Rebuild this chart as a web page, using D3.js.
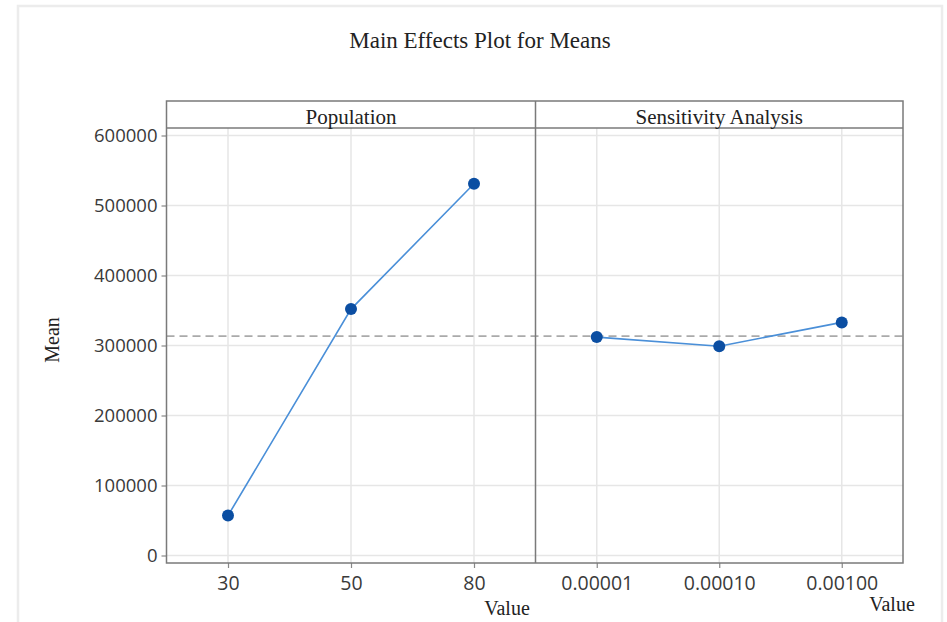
<!DOCTYPE html>
<html>
<head>
	<meta charset="utf-8">
	<title>Main Effects Plot for Means</title>
	<style>
		body {
			margin: 0;
			background: #fff;
		}
		.serif {
			font-family: "Liberation Serif", "Times New Roman", serif;
			fill: #222;
		}
		.tick text {
			font-family: "Open Sans", "Noto Sans", sans-serif;
			fill: #3a3a3a;
		}
	</style>
</head>
<body>
	<div id="chart"></div>

	<script src="https://cdn.jsdelivr.net/npm/d3@7/dist/d3.min.js"></script>
	<script>
	// Main effects data (means)
	var factors = ["Population", "Sensitivity Analysis"]
	var populationLevels = ["30", "50", "80"]
	var populationMeans  = [57000, 352000, 531000]
	var sensitivityLevels = ["0.00001", "0.00010", "0.00100"]
	var sensitivityMeans  = [312000, 299000, 333000]
	var yTicks = [0, 100000, 200000, 300000, 400000, 500000, 600000]

	var grandMean = d3.mean(populationMeans)

	// Layout
	var width = 947, height = 622
	var plotLeft = 166.5, plotRight = 903, divider = 535.5
	var stripTop = 101, plotTop = 128, plotBottom = 563

	var svg = d3.select("#chart").append("svg")
		.attr("width", width)
		.attr("height", height)

	// faint outer frame
	svg.append("rect")
		.attr("x", 18).attr("y", 6)
		.attr("width", 924).attr("height", 700)
		.attr("fill", "none")
		.attr("stroke", "#ececec")
		.attr("stroke-width", 2.5)

	var y = d3.scaleLinear()
		.domain([0, 600000])
		.range([555.5, 135.5])

	var panels = [
		{name: factors[0], levels: populationLevels, means: populationMeans, x0: plotLeft, x1: divider},
		{name: factors[1], levels: sensitivityLevels, means: sensitivityMeans, x0: divider, x1: plotRight}
	]

	panels.forEach(function(p){
		p.x = d3.scalePoint()
			.domain(p.levels)
			.range([p.x0, p.x1])
			.padding(0.5)
	})

	// Gridlines
	panels.forEach(function(p){
		svg.append("g").selectAll("line.hgrid").data(yTicks).join("line")
			.attr("x1", p.x0).attr("x2", p.x1)
			.attr("y1", function(d){ return y(d) }).attr("y2", function(d){ return y(d) })
			.attr("stroke", "#e6e6e6").attr("stroke-width", 1.5)
		svg.append("g").selectAll("line.vgrid").data(p.levels).join("line")
			.attr("x1", function(d){ return p.x(d) }).attr("x2", function(d){ return p.x(d) })
			.attr("y1", plotTop).attr("y2", plotBottom)
			.attr("stroke", "#e6e6e6").attr("stroke-width", 1.5)
	})

	// Grand mean reference line
	svg.append("line")
		.attr("x1", plotLeft).attr("x2", plotRight)
		.attr("y1", y(grandMean)).attr("y2", y(grandMean))
		.attr("stroke", "#aaa")
		.attr("stroke-width", 1.6)
		.attr("stroke-dasharray", "8,5")

	// Y axis
	var yAxis = svg.append("g")
		.attr("transform", "translate(" + plotLeft + ",0)")
		.call(d3.axisLeft(y).tickValues(yTicks).tickFormat(d3.format("d")).tickSize(5).tickPadding(4))
	yAxis.select(".domain").remove()
	yAxis.selectAll(".tick text").attr("font-size", 18.5)

	// X axes
	panels.forEach(function(p){
		var ax = svg.append("g")
			.attr("transform", "translate(0," + plotBottom + ")")
			.call(d3.axisBottom(p.x).tickSize(5).tickPadding(8))
		ax.select(".domain").remove()
		ax.selectAll(".tick text").attr("font-size", 19.5)
	})

	svg.selectAll(".tick line").attr("stroke", "#888").attr("stroke-width", 1.2)

	// Panel frame
	svg.append("rect")
		.attr("x", plotLeft).attr("y", stripTop)
		.attr("width", plotRight - plotLeft).attr("height", plotBottom - stripTop)
		.attr("fill", "none").attr("stroke", "#7a7a7a").attr("stroke-width", 1.5)
	svg.append("line")
		.attr("x1", plotLeft).attr("x2", plotRight)
		.attr("y1", plotTop).attr("y2", plotTop)
		.attr("stroke", "#7a7a7a").attr("stroke-width", 1.5)
	svg.append("line")
		.attr("x1", divider).attr("x2", divider)
		.attr("y1", stripTop).attr("y2", plotBottom)
		.attr("stroke", "#7a7a7a").attr("stroke-width", 1.5)

	// Lines and points
	var line = d3.line()
	panels.forEach(function(p){
		var pts = p.levels.map(function(l, i){ return [p.x(l), y(p.means[i])] })
		svg.append("path")
			.attr("d", line(pts))
			.attr("fill", "none")
			.attr("stroke", "#4a8fd8")
			.attr("stroke-width", 1.6)
		svg.append("g").selectAll("circle").data(pts).join("circle")
			.attr("cx", function(d){ return d[0] })
			.attr("cy", function(d){ return d[1] })
			.attr("r", 6)
			.attr("fill", "#0b4ea2")

		// strip label
		svg.append("text")
			.attr("class", "serif")
			.attr("x", (p.x0 + p.x1) / 2)
			.attr("y", 124)
			.attr("text-anchor", "middle")
			.attr("font-size", 21)
			.text(p.name)
	})

	// Titles
	svg.append("text")
		.attr("class", "serif")
		.attr("x", 480).attr("y", 48)
		.attr("text-anchor", "middle")
		.attr("font-size", 23)
		.text("Main Effects Plot for Means")

	svg.append("text")
		.attr("class", "serif")
		.attr("transform", "translate(59,340) rotate(-90)")
		.attr("text-anchor", "middle")
		.attr("font-size", 20)
		.text("Mean")

	svg.append("text")
		.attr("class", "serif")
		.attr("x", 507).attr("y", 615)
		.attr("text-anchor", "middle")
		.attr("font-size", 20)
		.text("Value")

	svg.append("text")
		.attr("class", "serif")
		.attr("x", 892).attr("y", 611)
		.attr("text-anchor", "middle")
		.attr("font-size", 20)
		.text("Value")
	</script>
</body>
</html>
